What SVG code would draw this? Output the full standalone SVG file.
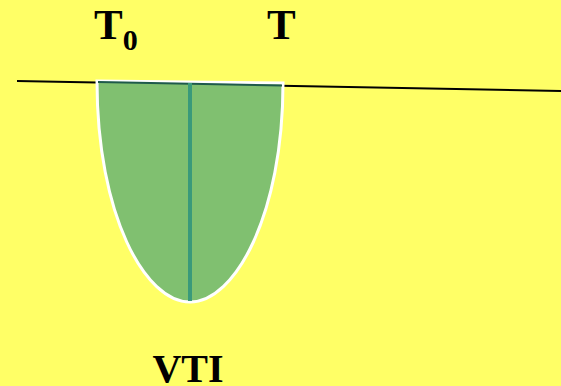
<svg xmlns="http://www.w3.org/2000/svg" width="561" height="386" viewBox="0 0 561 386">
<style>
.lbl{font-family:"Liberation Serif","Times New Roman",serif;font-weight:bold;fill:#000}
</style>
<rect width="561" height="386" fill="#ffff66"/>
<g id="connectors">
<line x1="17" y1="81" x2="561" y2="91" stroke="#000" stroke-width="2"/>
</g>
<g id="vti-shape">
<path d="M97,81 C97,215 145,302 190,302 C235,302 283,215 283,83 Z" fill="#80c070" stroke="#fff" stroke-width="3"/>
<line x1="98" y1="82" x2="282" y2="85.5" stroke="#1e5a4a" stroke-width="2"/>
<line x1="190" y1="83" x2="190" y2="301" stroke="#3a9a7a" stroke-width="4"/>
</g>
<g id="label-t0"><text class="lbl" x="94" y="39" font-size="43">T<tspan font-size="30" dy="11">0</tspan></text></g>
<g id="label-t"><text class="lbl" x="267" y="39" font-size="43">T</text></g>
<g id="label-vti"><text class="lbl" x="188" y="382" font-size="40" text-anchor="middle">VTI</text></g>
</svg>
